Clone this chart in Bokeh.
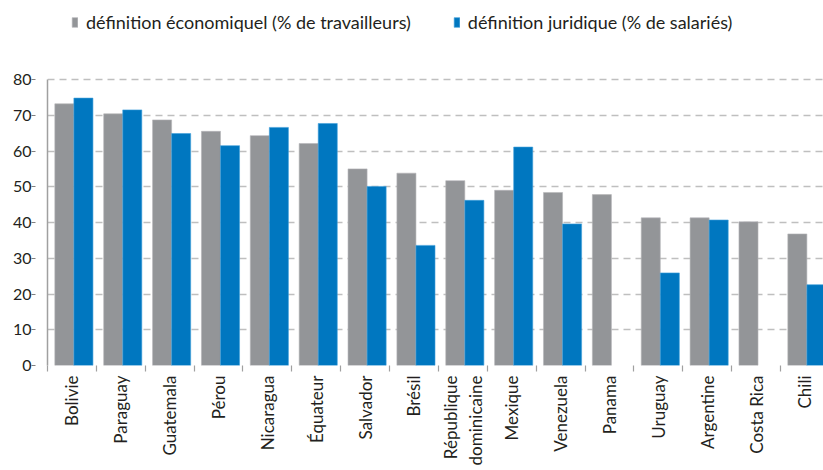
import numpy as np
from bokeh.plotting import figure
from bokeh.models import Range1d, FixedTicker, Legend, LegendItem, ColumnDataSource
from bokeh.embed import file_html
from bokeh.resources import INLINE

countries = ["Bolivie", "Paraguay", "Guatemala", "Pérou", "Nicaragua", "Équateur",
             "Salvador", "Brésil", "République\ndominicaine", "Mexique", "Venezuela",
             "Panama", "Uruguay", "Argentine", "Costa Rica", "Chili"]
economique = [73.2, 70.4, 68.7, 65.5, 64.3, 62.1, 55.0, 53.8, 51.7, 49.0, 48.4,
              47.8, 41.3, 41.3, 40.2, 36.8]
juridique = [74.8, 71.5, 64.9, 61.5, 66.6, 67.7, 50.1, 33.6, 46.2, 61.1, 39.6,
             np.nan, 25.9, 40.7, np.nan, 22.6]
y_ticks = [0, 10, 20, 30, 40, 50, 60, 70, 80]
label_eco = "définition économiquel (% de travailleurs)"
label_jur = "définition juridique (% de salariés)"

GRAY = "#939598"
BLUE = "#0077C0"
TEXT = "#231F20"
FONT = "Lato"

n = len(countries)
idx = np.arange(n)
centers = idx + 0.5
bw = 0.39

src = ColumnDataSource(dict(
    xg=idx + 0.15 + bw / 2,
    xb=idx + 0.15 + bw + bw / 2,
    eco=economique,
    jur=juridique,
))

# frame spans the full top of the canvas; the value axis stops at 80
p = figure(width=823, height=470, output_backend="svg", toolbar_location=None,
           x_range=Range1d(0, 15.88), y_range=Range1d(0, 102.1),
           min_border_left=47, min_border_right=0, min_border_top=0,
           min_border_bottom=105)
p.outline_line_color = None
p.background_fill_color = "white"

rg = p.vbar(x="xg", top="eco", width=bw, source=src, fill_color=GRAY,
            line_color="#B5B6B8", line_width=0.6)
rb = p.vbar(x="xb", top="jur", width=bw, source=src, fill_color=BLUE,
            line_color="#3FA0DA", line_width=0.6)

# x axis
p.xaxis.ticker = FixedTicker(ticks=list(centers), minor_ticks=list(idx.astype(float)))
p.xaxis.major_label_overrides = {float(c): name for c, name in zip(centers, countries)}
p.xaxis.major_label_orientation = np.pi / 2
p.xaxis.major_tick_line_color = None
p.xaxis.major_tick_out = 0
p.xaxis.major_tick_in = 0
p.xaxis.minor_tick_line_color = "#A0A0A0"
p.xaxis.minor_tick_out = 6
p.xaxis.minor_tick_in = 0
p.xaxis.minor_tick_line_width = 1.2
p.xaxis.axis_line_color = None
p.xaxis.major_label_text_font = FONT
p.xaxis.major_label_text_font_size = "17px"
p.xaxis.major_label_text_color = TEXT
p.xaxis.major_label_standoff = 4

# y axis
p.yaxis.ticker = FixedTicker(ticks=y_ticks)
p.yaxis.bounds = (0, 80)
p.yaxis.minor_tick_line_color = None
p.yaxis.major_tick_line_color = "#808080"
p.yaxis.major_tick_out = 16
p.yaxis.major_tick_in = -12
p.yaxis.major_label_standoff = 0
p.yaxis.axis_line_color = "#A0A0A0"
p.yaxis.axis_line_width = 1.5
p.yaxis.major_label_text_font = FONT
p.yaxis.major_label_text_font_size = "16px"
p.yaxis.major_label_text_color = TEXT

p.xgrid.grid_line_color = None
p.ygrid.grid_line_color = "#BFBFBF"
p.ygrid.grid_line_width = 1.5
p.ygrid.grid_line_dash = "7 5"

legend = Legend(items=[LegendItem(label=label_eco, renderers=[rg]),
                       LegendItem(label=label_jur, renderers=[rb])],
                orientation="horizontal", location=(24, 332))
legend.border_line_color = None
legend.background_fill_alpha = 0
legend.padding = 0
legend.margin = 0
legend.spacing = 42
legend.glyph_width = 7
legend.glyph_height = 12
legend.label_standoff = 8
legend.label_text_font = FONT
legend.label_text_font_size = "18px"
legend.label_text_color = TEXT
p.add_layout(legend, "center")

open("out.html", "w").write(file_html(p, INLINE))
